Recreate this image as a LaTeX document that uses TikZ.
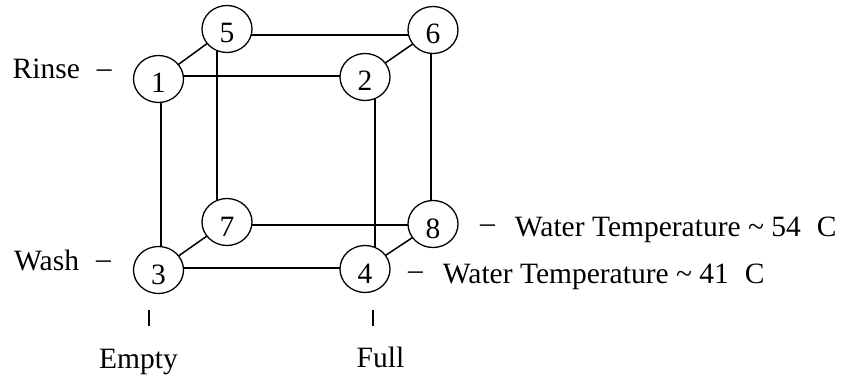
\documentclass[tikz,border=0pt]{standalone}
\usepackage{fontspec}
\setmainfont{Liberation Serif}
\usetikzlibrary{shapes.geometric,backgrounds}
\newcommand{\bigfont}{\fontsize{29.5}{34}\selectfont}
\newcommand{\sep}[1]{\raisebox{#1}{–}}
\begin{document}
\begin{tikzpicture}[x=1pt,y=-1pt,
  state/.style={ellipse,draw,line width=1.3pt,fill=white,
    minimum width=50pt,minimum height=47pt,inner sep=0pt,font=\bigfont,
    text height=28pt,text depth=0pt},
  edge/.style={line width=1.5pt},
  lbl/.style={inner sep=0pt,font=\bigfont},
  axtick/.style={line width=1.5pt}]
\useasboundingbox (0,0) rectangle (843,377);

% states of the cube
\node[state] (n1) at (158.5,79) {1};
\node[state] (n2) at (365,77) {2};
\node[state] (n3) at (158.5,270) {3};
\node[state] (n4) at (365,269) {4};
\node[state] (n5) at (227,29) {5};
\node[state] (n6) at (433,30) {6};
\node[state] (n7) at (227,222) {7};
\node[state] (n8) at (433,224) {8};

% edges of the cube, drawn behind the states
\begin{pgfonlayer}{background}
  \draw[edge] ([yshift=3pt]n1.center) -- ([yshift=3pt]n1.center -| n2.center);
  \draw[edge] ([yshift=-6pt]n5.center) -- ([yshift=-6pt]n5.center -| n6.center);
  \draw[edge] ([yshift=-3pt]n7.center) -- ([yshift=-3pt]n7.center -| n8.center);
  \draw[edge] ([yshift=2pt]n3.center) -- ([yshift=2pt]n3.center -| n4.center);
  \draw[edge] ([xshift=2.5pt]n1.center) -- ([xshift=2.5pt]n1.center |- n3.center);
  \draw[edge] ([xshift=-10pt]n5.center) -- ([xshift=-10pt]n5.center |- n7.center);
  \draw[edge] ([xshift=10pt]n2.center) -- ([xshift=10pt]n2.center |- n4.center);
  \draw[edge] ([xshift=-2pt]n6.center) -- ([xshift=-2pt]n6.center |- n8.center);
  \draw[edge] (n1.center) -- (n5.center);
  \draw[edge] (n2.center) -- (n6.center);
  \draw[edge] (n3.center) -- (n7.center);
  \draw[edge] (n4.center) -- (n8.center);
\end{pgfonlayer}

% axis labels
\node[lbl,anchor=base west] (rinse) at (12.5,79) {Rinse\hspace{17pt}\sep{1.5pt}};
\node[lbl,anchor=base west] (wash) at (14,270) {Wash\hspace{17pt}\sep{1.5pt}};
\node[lbl,anchor=base west] (hot) at (480,236)
  {\sep{4pt}\hspace{20pt}Water Temperature \textasciitilde{} 54\hspace{16pt}C};
\node[lbl,anchor=base west] (warm) at (408,283)
  {\sep{4pt}\hspace{20pt}Water Temperature \textasciitilde{} 41\hspace{16pt}C};
\node[lbl,anchor=base] (empty) at (138.5,368) {Empty};
\node[lbl,anchor=base] (full) at (380.5,367) {Full};

% tick marks above the bottom labels
\coordinate (te1) at (149,310);
\coordinate (te2) at (149,326);
\coordinate (tf1) at (373,310);
\coordinate (tf2) at (373,326);
\draw[axtick] (te1) -- (te2);
\draw[axtick] (tf1) -- (tf2);
\end{tikzpicture}
\end{document}
